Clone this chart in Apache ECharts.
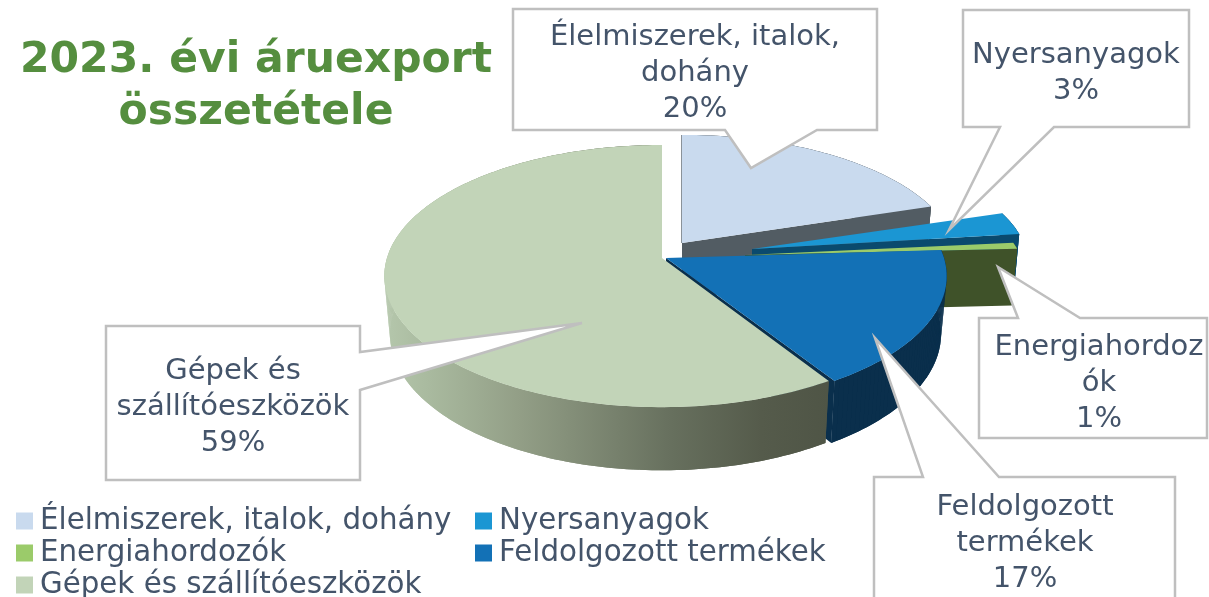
<!DOCTYPE html>
<html>
<head>
<meta charset="utf-8">
<title>2023. évi áruexport összetétele</title>
<script src="https://cdn.jsdelivr.net/npm/echarts@6/dist/echarts.min.js"></script>
<style>
html,body{margin:0;padding:0;background:#fff;overflow:hidden;}
#main{width:1209px;height:597px;}
</style>
</head>
<body>
<div id="main"></div>
<script>
var titleText = '2023. évi áruexport\nösszetétele';
var categories = ['Élelmiszerek, italok, dohány', 'Nyersanyagok', 'Energiahordozók', 'Feldolgozott termékek', 'Gépek és szállítóeszközök'];
var values = [20, 3, 1, 17, 59];
// how the callouts break the category name
var calloutNames = ['Élelmiszerek, italok,\ndohány', 'Nyersanyagok', 'Energiahordoz\nók', 'Feldolgozott\ntermékek', 'Gépek és\nszállítóeszközök'];

var topColors = ['#C9DAEE', '#1B96D3', '#9BCB6A', '#1371B6', '#C2D4B8'];
var sideColors = ['#525C63', '#0A4A6E', '#3F5229', '#0A2F4C', null];

var fontName = '"DejaVu Sans", Verdana, sans-serif';
var textColor = '#44546A';
var lineColor = '#BFBFBF';

// exploded slice geometry: centre and radii on screen
var sliceBox = [
	{cx: 682, cy: 243, rx: 273, ry: 123},
	{cx: 752, cy: 249, rx: 274, ry: 121},
	{cx: 745, cy: 255, rx: 275, ry: 100},
	{cx: 666, cy: 258, rx: 278, ry: 128.6},
	{cx: 662, cy: 258, rx: 275, ry: 128.6}
];
var camera = 7.25;
var depth = 57;
var bottomScale = 0.98;

// callout boxes, pointer goes out of one box side
var calloutBox = [
	{x: 513, y: 9, w: 364, h: 121, tip: [751, 168], base: [[725, 130], [817, 130]], tx: 695, ty: 19},
	{x: 963, y: 10, w: 226, h: 117, tip: [949, 230], base: [[1000, 127], [1054, 127]], tx: 1076, ty: 37},
	{x: 979, y: 318, w: 228, h: 120, tip: [998, 267], base: [[1018, 318], [1080, 318]], tx: 1099, ty: 329},
	{x: 874, y: 477, w: 301, h: 130, tip: [875, 338], base: [[923, 477], [999, 477]], tx: 1025, ty: 489},
	{x: 106, y: 326, w: 254, h: 154, tip: [582, 323], base: [[360, 352], [360, 390]], tx: 233, ty: 353}
];

// legend cells: which category sits where
var legendCells = [
	{idx: 0, left: 16, top: 505},
	{idx: 1, left: 475, top: 505},
	{idx: 2, left: 16, top: 537},
	{idx: 3, left: 475, top: 537},
	{idx: 4, left: 16, top: 569}
];

function project(box, angle, bottom) {
	var u = Math.sin(angle);
	var v = -Math.cos(angle);
	var s = camera / (camera - v);
	var x = box.rx * u * s;
	var y = box.ry * v * s;
	if (bottom) {
		x = x * bottomScale;
		y = y * bottomScale + depth * s;
	}
	return [box.cx + x, box.cy + y];
}

function tipPoint(box, bottom) {
	return [box.cx, box.cy + (bottom ? depth : 0)];
}

function arcPoints(box, a1, a2, bottom) {
	var pts = [];
	var n = Math.max(4, Math.ceil((a2 - a1) / 0.02));
	for (var i = 0; i <= n; i++) {
		pts.push(project(box, a1 + (a2 - a1) * i / n, bottom));
	}
	return pts;
}

function sideFill(idx) {
	if (sideColors[idx]) return sideColors[idx];
	return new echarts.graphic.LinearGradient(384, 0, 828, 0, [
		{offset: 0, color: '#B5C7AC'},
		{offset: 0.1, color: '#A9BA9F'},
		{offset: 0.3, color: '#939F87'},
		{offset: 0.645, color: '#67705E'},
		{offset: 0.85, color: '#555B4B'},
		{offset: 1, color: '#4F5546'}
	], true);
}

function buildSlice(idx) {
	var total = values.reduce(function (a, b) { return a + b; }, 0);
	var before = 0;
	for (var i = 0; i < idx; i++) before += values[i];
	var a1 = before / total * Math.PI * 2;
	var a2 = (before + values[idx]) / total * Math.PI * 2;
	var box = sliceBox[idx];
	var children = [];
	var fill = sideFill(idx);

	// outer wall: strip plus small quads, so the silhouette has no notch at the far left/right
	var upper = arcPoints(box, a1, a2, false);
	var lower = arcPoints(box, a1, a2, true);
	children.push({type: 'polygon', shape: {points: upper.concat(lower.slice().reverse())}, style: {fill: fill}});
	for (var k = 0; k < upper.length - 1; k++) {
		children.push({
			type: 'polygon',
			shape: {points: [upper[k], upper[k + 1], lower[k + 1], lower[k]]},
			style: {fill: fill}
		});
	}

	// cut face, only when it looks at the viewer
	if (a2 < Math.PI) {
		var face = [tipPoint(box, false), project(box, a2, false), project(box, a2, true), tipPoint(box, true)];
		children.push({type: 'polygon', shape: {points: face}, style: {fill: fill}});
	}
	if (idx == 0) {
		children.push({
			type: 'polyline',
			shape: {points: [tipPoint(box, false), project(box, a1, false)]},
			style: {stroke: '#8A9299', lineWidth: 2, fill: null}
		});
	}

	// top face
	var topFace = [tipPoint(box, false)].concat(upper);
	children.push({type: 'polygon', shape: {points: topFace}, style: {fill: topColors[idx]}});
	return {type: 'group', children: children};
}

function buildSeries() {
	return categories.map(function (name, idx) {
		return {
			name: name,
			type: 'custom',
			coordinateSystem: 'none',
			itemStyle: {color: topColors[idx]},
			silent: true,
			z: 2 + idx,
			data: [[values[idx]]],
			renderItem: function () { return buildSlice(idx); }
		};
	});
}

function buildCallouts() {
	var items = [];
	calloutBox.forEach(function (c, idx) {
		var l = c.x, t = c.y, r = c.x + c.w, b = c.y + c.h;
		var pts;
		if (c.base[0][1] == b) {
			pts = [[l, t], [r, t], [r, b], c.base[1], c.tip, c.base[0], [l, b]];
		} else if (c.base[0][1] == t) {
			pts = [[l, t], c.base[0], c.tip, c.base[1], [r, t], [r, b], [l, b]];
		} else {
			pts = [[l, t], [r, t], c.base[0], c.tip, c.base[1], [r, b], [l, b]];
		}
		items.push({
			type: 'polygon',
			z: 20,
			shape: {points: pts},
			style: {fill: '#fff', stroke: lineColor, lineWidth: 2.5}
		});
		items.push({
			type: 'text',
			z: 21,
			style: {
				text: calloutNames[idx] + '\n' + values[idx] + '%',
				x: c.tx,
				y: c.ty,
				align: 'center',
				verticalAlign: 'top',
				fill: textColor,
				font: '29px ' + fontName,
				lineHeight: 36
			}
		});
	});
	return items;
}

function buildLegend(cell) {
	return {
		data: [categories[cell.idx]],
		orient: 'horizontal',
		left: cell.left,
		top: cell.top,
		icon: 'rect',
		itemWidth: 17,
		itemHeight: 17,
		padding: 0,
		selectedMode: false,
		textStyle: {
			color: textColor,
			fontFamily: fontName,
			fontSize: 29.3,
			lineHeight: 32,
			padding: [0, 0, 0, 2]
		}
	};
}

var chart = echarts.init(document.getElementById('main'), null, {renderer: 'canvas'});
chart.setOption({
	animation: false,
	title: {
		text: titleText,
		left: 251,
		top: 30,
		textAlign: 'center',
		textStyle: {
			color: '#558E3F',
			fontFamily: fontName,
			fontWeight: 'bold',
			fontSize: 42.5,
			lineHeight: 52,
			align: 'center'
		}
	},
	legend: legendCells.map(buildLegend),
	series: buildSeries(),
	graphic: {elements: buildCallouts()}
});
</script>
</body>
</html>
